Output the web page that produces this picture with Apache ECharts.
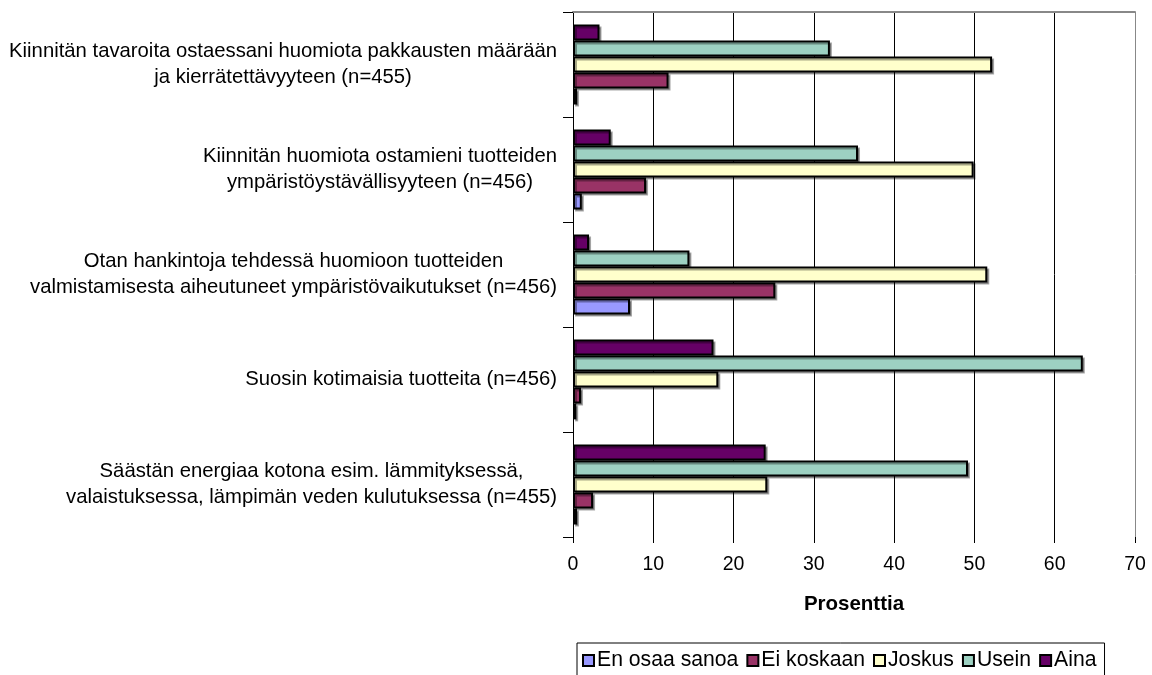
<!DOCTYPE html>
<html>
<head>
<meta charset="utf-8">
<script src="https://cdn.jsdelivr.net/npm/echarts@6/dist/echarts.min.js"></script>
<style>
html,body{margin:0;padding:0;background:#fff;}
#chart{width:1152px;height:675px;}
</style>
</head>
<body>
<div id="chart"></div>
<script>
const categories = [
  "Kiinnitän tavaroita ostaessani huomiota pakkausten määrään\nja kierrätettävyyteen (n=455)",
  "Kiinnitän huomiota ostamieni tuotteiden\nympäristöystävällisyyteen (n=456)",
  "Otan hankintoja tehdessä huomioon tuotteiden\nvalmistamisesta aiheutuneet ympäristövaikutukset (n=456)",
  "Suosin kotimaisia tuotteita (n=456)",
  "Säästän energiaa kotona esim. lämmityksessä,\nvalaistuksessa, lämpimän veden kulutuksessa (n=455)"
];
const seriesNames = ["Aina", "Usein", "Joskus", "Ei koskaan", "En osaa sanoa"];
const legendOrder = ["En osaa sanoa", "Ei koskaan", "Joskus", "Usein", "Aina"];
const aina = [3.3, 4.7, 2.0, 17.5, 24.0];
const usein = [32.0, 35.5, 14.5, 63.5, 49.2];
const joskus = [52.2, 49.9, 51.6, 18.1, 24.2];
const eiKoskaan = [11.9, 9.1, 25.2, 1.0, 2.5];
const enOsaa = [0.5, 1.1, 7.1, 0.4, 0.5];
const xTicks = [0, 10, 20, 30, 40, 50, 60, 70];
const axisTitle = "Prosenttia";

const values = [aina, usein, joskus, eiKoskaan, enOsaa];
const colors = ["#660066", "#9dd1c2", "#ffffcc", "#993366", "#9999ff"];
const FONT = "'Liberation Sans', Arial, sans-serif";

const chart = echarts.init(document.getElementById('chart'), null, {renderer: 'canvas'});
const option = {
  animation: false,
  backgroundColor: '#ffffff',
  grid: {left: 573, right: 17, top: 12, bottom: 138, containLabel: false},
  legend: {
    data: legendOrder,
    left: 577, top: 643,
    orient: 'horizontal',
    itemWidth: 11, itemHeight: 11, itemGap: 8,
    padding: [7, 8, 12, 5],
    borderColor: '#000', borderWidth: 1,
    icon: 'rect',
    textStyle: {fontFamily: FONT, fontSize: 21.2, color: '#000', padding: [0, 0, 0, -2]},
    itemStyle: {borderColor: '#000', borderWidth: 2}
  },
  xAxis: [{
    type: 'value', min: xTicks[0], max: xTicks[xTicks.length - 1], interval: 10,
    position: 'bottom',
    axisLine: {show: false},
    axisTick: {show: true, length: 6, lineStyle: {color: '#000', width: 1}},
    axisLabel: {fontFamily: FONT, fontSize: 19.5, color: '#000', margin: 18},
    splitLine: {show: true, lineStyle: {color: ['#000','#000','#000','#000','#000','#000','#000','#888'], width: 1}},
    name: axisTitle, nameLocation: 'middle', nameGap: 57,
    nameTextStyle: {fontFamily: FONT, fontSize: 20.5, fontWeight: 'bold', color: '#000'}
  }, {
    type: 'value', min: xTicks[0], max: xTicks[xTicks.length - 1], interval: 10,
    position: 'top',
    axisLine: {show: true, lineStyle: {color: '#888', width: 2}},
    axisTick: {show: false}, axisLabel: {show: false}, splitLine: {show: false}
  }],
  yAxis: {
    type: 'category', data: categories, inverse: true,
    axisLine: {show: true, lineStyle: {color: '#000', width: 1}},
    axisTick: {show: true, length: 10, lineStyle: {color: '#000'}},
    axisLabel: {
      margin: 16,
      fontFamily: FONT, fontSize: 20.3, color: '#000', lineHeight: 26,
      formatter: function (v) { return v.split('\n').map(function (l) { return '{c|' + l + '}'; }).join('\n'); },
      rich: {c: {align: 'center', fontFamily: FONT, fontSize: 20.3, lineHeight: 26, color: '#000'}}
    },
    splitLine: {show: false}
  },
  series: seriesNames.map(function (name, i) {
    return {
      name: name, type: 'bar', xAxisIndex: 0,
      data: values[i],
      barGap: '0%', barCategoryGap: '24%',
      itemStyle: {
        color: colors[i], borderColor: '#000', borderWidth: 2,
        shadowColor: 'rgba(0,0,0,0.35)', shadowOffsetX: 2, shadowOffsetY: 2, shadowBlur: 0
      }
    };
  })
};
chart.setOption(option);
</script>
</body>
</html>
